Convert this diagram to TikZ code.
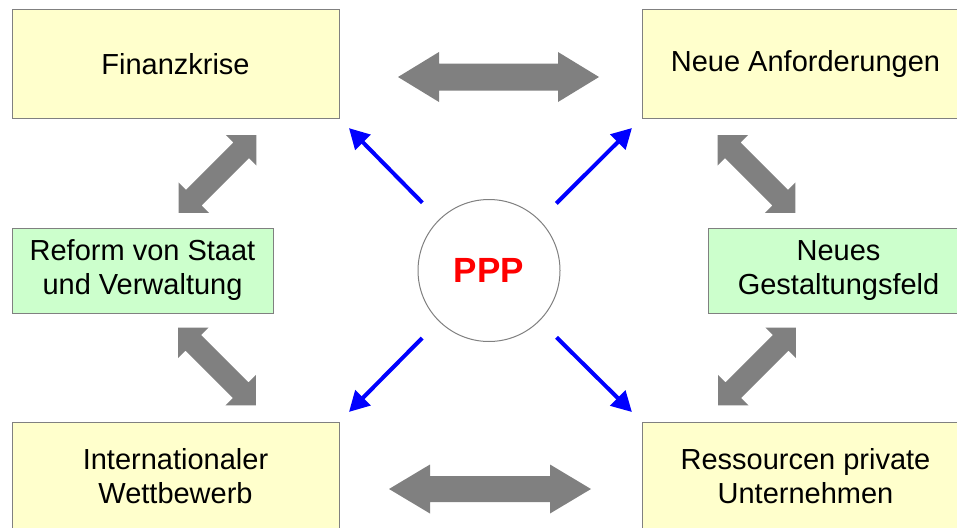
\documentclass[tikz,border=0pt]{standalone}
\usepackage{fontspec}
\setmainfont{Liberation Sans}
\usetikzlibrary{arrows.meta}
\definecolor{boxyellow}{HTML}{FFFFCC}
\definecolor{boxgreen}{HTML}{CCFFCC}
\definecolor{framegray}{HTML}{808080}
\definecolor{arrowgray}{HTML}{808080}
% #1 centre coordinate name, #2 angle, #3 half length, #4 head length, #5 head half width, #6 shaft half width
\newcommand{\blkarrow}[6]{%
  \begin{scope}[shift={(#1)}, rotate=#2]
    \fill[arrowgray] (-#3,0) -- (-#3+#4,#5) -- (-#3+#4,#6) -- (#3-#4,#6) -- (#3-#4,#5) -- (#3,0)
      -- (#3-#4,-#5) -- (#3-#4,-#6) -- (-#3+#4,-#6) -- (-#3+#4,-#5) -- cycle;
  \end{scope}}
\begin{document}
\begin{tikzpicture}[x=1pt,y=-1pt,
  txt/.style={align=center, inner sep=0pt, font=\fontsize{29}{34}\selectfont},
  bigbox/.style={txt, draw=framegray, line width=1pt, fill=boxyellow, minimum width=327pt, minimum height=108pt},
  midbox/.style={txt, draw=framegray, line width=1pt, fill=boxgreen, minimum width=261pt, minimum height=85pt},
  hub/.style={circle, draw=framegray, line width=1pt, fill=white, minimum size=142pt, inner sep=0pt,
    text=red, font=\fontsize{35}{40}\selectfont\bfseries},
  bluearrow/.style={draw=blue, line width=4pt, -{Triangle[length=20pt,width=21pt]}, shorten <=23.5pt, shorten >=13.5pt}]
  \useasboundingbox (0,0) rectangle (957,527);
  \clip (0,0) rectangle (957,527);

  \node[bigbox] (fin) at (175.5,64) {Finanzkrise};
  \node[bigbox] (neu) at (805.5,64) {Neue Anforderungen};
  \node[midbox] (ref) at (142.5,270.5) {Reform von Staat\\und Verwaltung};
  \node[midbox] (ges) at (838.5,270.5) {Neues\\Gestaltungsfeld};
  \node[bigbox] (int) at (175.5,476) {Internationaler\\Wettbewerb};
  \node[bigbox] (res) at (805.5,476) {Ressourcen private\\Unternehmen};
  \node[hub] (ppp) at (489,270.5) {PPP};

  % gray double arrows
  \coordinate (gtop) at (498.5,77);
  \coordinate (gbot) at (490,489);
  \coordinate (gul) at (217.5,174);
  \coordinate (gur) at (756.5,174);
  \coordinate (gll) at (217,366.5);
  \coordinate (glr) at (757,366.5);
  \blkarrow{gtop}{0}{100.5}{41}{25}{13.5}
  \blkarrow{gbot}{0}{101}{41}{24.5}{13}
  \blkarrow{gul}{45}{55}{21.5}{21.5}{11}
  \blkarrow{gur}{-45}{55}{21.5}{21.5}{11}
  \blkarrow{gll}{-45}{55}{21.5}{21.5}{11}
  \blkarrow{glr}{45}{55}{21.5}{21.5}{11}

  % blue arrows
  \draw[bluearrow] (ppp) -- (fin.south east);
  \draw[bluearrow] (ppp) -- (neu.south west);
  \draw[bluearrow] (ppp) -- (int.north east);
  \draw[bluearrow] (ppp) -- (res.north west);
\end{tikzpicture}
\end{document}
